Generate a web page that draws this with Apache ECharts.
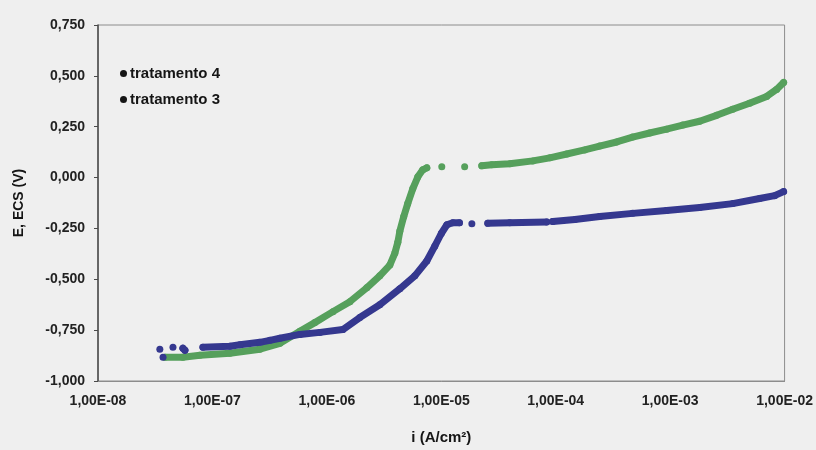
<!DOCTYPE html>
<html>
<head>
<meta charset="utf-8">
<script src="https://cdn.jsdelivr.net/npm/echarts@6/dist/echarts.min.js"></script>
<style>
  html, body { margin: 0; padding: 0; background: #efefef; }
  #chart { width: 816px; height: 450px; }
</style>
</head>
<body>
<div id="chart"></div>
<script>
// Polarization curves: current density i (A/cm²) vs potential E (V, ECS)
const seriesNames = ['tratamento 4', 'tratamento 3'];

// tratamento 4 — [i, E]; null breaks the curve where the measured points are sparse
const tratamento4 = [
  [3.85e-8, -0.883], [5.52e-8, -0.883], [7.78e-8, -0.873], [1.42e-7, -0.864],
  [2.60e-7, -0.844], [3.89e-7, -0.815], [5.81e-7, -0.756], [7.85e-7, -0.713],
  [1.13e-6, -0.659], [1.59e-6, -0.610], [2.23e-6, -0.542], [2.90e-6, -0.483],
  [3.55e-6, -0.430], [3.93e-6, -0.371], [4.17e-6, -0.318], [4.34e-6, -0.264],
  [4.70e-6, -0.191], [5.09e-6, -0.128], [5.64e-6, -0.054], [6.24e-6, 0.004],
  [6.89e-6, 0.038], [7.47e-6, 0.048],
  null, [1.01e-5, 0.053],
  null, [1.60e-5, 0.053],
  null, [2.26e-5, 0.058], [2.76e-5, 0.063], [3.96e-5, 0.068], [6.30e-5, 0.082],
  [8.87e-5, 0.097], [1.25e-4, 0.116], [1.79e-4, 0.136], [2.42e-4, 0.155],
  [3.41e-4, 0.175], [4.70e-4, 0.199], [6.62e-4, 0.219], [9.31e-4, 0.238],
  [1.29e-3, 0.258], [1.81e-3, 0.277], [2.55e-3, 0.306], [3.52e-3, 0.336],
  [4.94e-3, 0.365], [6.97e-3, 0.399], [8.51e-3, 0.433], [9.80e-3, 0.467]
];

// tratamento 3 — [i, E]
const tratamento3 = [
  [3.47e-8, -0.844],
  null, [3.70e-8, -0.883],
  null, [4.52e-8, -0.834],
  null, [5.52e-8, -0.839], [5.75e-8, -0.849],
  null, [8.26e-8, -0.834], [1.42e-7, -0.829], [1.74e-7, -0.822], [2.60e-7, -0.810],
  [3.18e-7, -0.800], [3.89e-7, -0.790], [5.81e-7, -0.771], [8.69e-7, -0.761],
  [1.38e-6, -0.747], [1.94e-6, -0.688], [2.90e-6, -0.625], [4.34e-6, -0.547],
  [5.87e-6, -0.483], [7.47e-6, -0.410], [8.77e-6, -0.337], [1.00e-5, -0.275],
  [1.12e-5, -0.232], [1.26e-5, -0.222], [1.44e-5, -0.222],
  null, [1.85e-5, -0.227],
  null, [2.55e-5, -0.225], [3.96e-5, -0.222], [8.34e-5, -0.218],
  null, [9.42e-5, -0.216], [1.47e-4, -0.206], [2.42e-4, -0.191], [4.70e-4, -0.176],
  [9.31e-4, -0.162], [1.81e-3, -0.147], [3.52e-3, -0.128], [6.05e-3, -0.103],
  [8.18e-3, -0.089], [9.80e-3, -0.069]
];

const xMin = 1e-8, xMax = 1e-2;
const yMin = -1.0, yMax = 0.75, yStep = 0.25;

const colors = ['#56a05c', '#35388f'];
const fontFamily = '"Liberation Sans", Arial, sans-serif';

function fmtExp(v) {
  const e = Math.round(Math.log10(v));
  const s = String(Math.abs(e)).padStart(2, '0');
  return '1,00E' + (e < 0 ? '-' : '+') + s;
}
function fmtE(v) {
  return v.toFixed(3).replace('.', ',');
}

const toData = arr => arr.map(p => (p === null ? ['-', '-'] : p));

const chart = echarts.init(document.getElementById('chart'), null, { renderer: 'canvas' });
chart.setOption({
  backgroundColor: '#efefef',
  animation: false,
  textStyle: { fontFamily },
  grid: {
    left: 98, right: 31, top: 25, bottom: 66,
    show: true, borderColor: '#8c8c8c', borderWidth: 1, backgroundColor: 'transparent'
  },
  legend: {
    orient: 'vertical',
    left: 120, top: 66,
    padding: 0,
    itemGap: 11,
    icon: 'circle',
    itemWidth: 7, itemHeight: 7,
    textStyle: { fontSize: 15, fontWeight: 'bold', color: '#151515', padding: [0, 0, 0, -2] },
    data: [
      { name: seriesNames[0], itemStyle: { color: '#151515' } },
      { name: seriesNames[1], itemStyle: { color: '#151515' } }
    ]
  },
  xAxis: {
    type: 'log',
    logBase: 10,
    min: xMin, max: xMax,
    splitNumber: 6,
    name: 'i (A/cm²)',
    nameLocation: 'middle',
    nameGap: 49,
    nameTextStyle: { fontSize: 15, fontWeight: 'bold', color: '#151515' },
    axisLine: { show: true, onZero: false, lineStyle: { color: '#8c8c8c', width: 1 } },
    axisTick: { show: false },
    minorTick: { show: false },
    splitLine: { show: false },
    axisLabel: {
      formatter: fmtExp, margin: 13, fontSize: 14, fontWeight: 'bold', color: '#222',
      showMinLabel: true, showMaxLabel: true
    }
  },
  yAxis: {
    type: 'value',
    min: yMin, max: yMax, interval: yStep,
    name: 'E, ECS (V)',
    nameLocation: 'middle',
    nameGap: 72,
    nameRotate: 90,
    nameTextStyle: { fontSize: 14, fontWeight: 'bold', color: '#151515' },
    axisLine: { show: true, onZero: false, lineStyle: { color: '#4a4a4a', width: 1.5 } },
    axisTick: { show: true, length: 4, lineStyle: { color: '#4a4a4a' } },
    splitLine: { show: false },
    axisLabel: { formatter: fmtE, margin: 13, fontSize: 14, fontWeight: 'bold', color: '#222' }
  },
  series: [
    {
      name: seriesNames[0],
      type: 'line',
      data: toData(tratamento4),
      connectNulls: false,
      showSymbol: true, showAllSymbol: true,
      symbol: 'circle', symbolSize: 7,
      color: colors[0],
      itemStyle: { color: colors[0] },
      lineStyle: { color: colors[0], width: 7, cap: 'round', join: 'round' },
      z: 3
    },
    {
      name: seriesNames[1],
      type: 'line',
      data: toData(tratamento3),
      connectNulls: false,
      showSymbol: true, showAllSymbol: true,
      symbol: 'circle', symbolSize: 7,
      color: colors[1],
      itemStyle: { color: colors[1] },
      lineStyle: { color: colors[1], width: 7, cap: 'round', join: 'round' },
      z: 4
    }
  ]
});
</script>
</body>
</html>
